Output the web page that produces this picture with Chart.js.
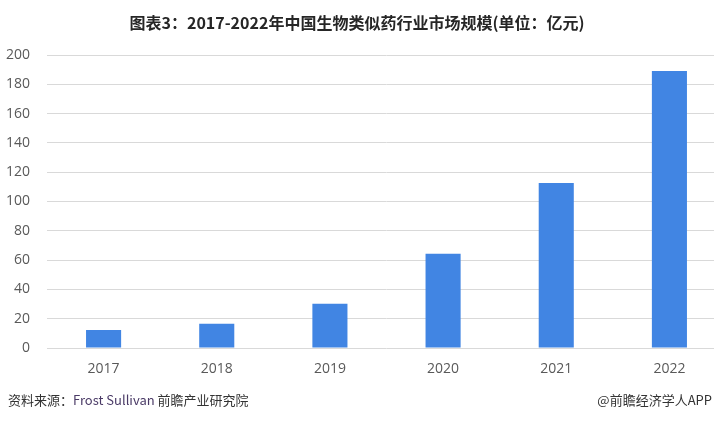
<!DOCTYPE html>
<html>
<head>
<meta charset="utf-8">
<script src="https://cdn.jsdelivr.net/npm/chart.js@4/dist/chart.umd.min.js"></script>
<style>
    body { margin: 0; background: #fff; }
    #cadre { position: relative; width: 714px; height: 421px; overflow: hidden; background: #fff; }
    #titre {
        position: absolute; left: 0; top: 10px; width: 714px; text-align: center;
        font: bold 16px "Noto Sans CJK SC", sans-serif; color: #262626;
    }
    #zone { position: absolute; left: 0; top: 0; width: 726px; height: 421px; }
    .pied { position: absolute; top: 390px; font: 13px "Noto Sans CJK SC", sans-serif; color: #333; }
    #source { left: 8px; }
    #source span { color: #4a3a66; }
    #app { right: 2px; }
</style>
</head>
<body>
<div id="cadre">
    <div id="zone"><canvas id="graph" width="726" height="421"></canvas></div>
    <div id="titre">图表3：2017-2022年中国生物类似药行业市场规模(单位：亿元)</div>
    <div class="pied" id="source">资料来源：<span>Frost Sullivan</span> 前瞻产业研究院</div>
    <div class="pied" id="app">@前瞻经济学人APP</div>
</div>
<script>
// données
const annees = ["2017", "2018", "2019", "2020", "2021", "2022"];
const marche = [12.3, 16.5, 30.2, 64.3, 112.6, 189];
const graduations = [0, 20, 40, 60, 80, 100, 120, 140, 160, 180, 200];

addEventListener("DOMContentLoaded", init);

function init() {
    const ctx = document.getElementById("graph").getContext("2d");
    new Chart(ctx, {
        type: "bar",
        data: {
            labels: annees,
            datasets: [{
                label: "市场规模",
                data: marche,
                backgroundColor: "#4185E3",
                categoryPercentage: 1,
                barPercentage: 0.31
            }]
        },
        options: {
            responsive: false,
            animation: false,
            layout: { padding: { top: 55, right: 0, bottom: 0, left: 0 } },
            plugins: {
                legend: { display: false },
                tooltip: { enabled: false }
            },
            scales: {
                x: {
                    grid: { display: false, drawTicks: false },
                    border: { display: false },
                    ticks: {
                        color: "#595959",
                        padding: 13,
                        font: { family: "'Open Sans', 'Noto Sans', sans-serif", size: 14 }
                    },
                    afterFit: function (axe) { axe.height = 73; }
                },
                y: {
                    min: 0,
                    max: 200,
                    afterBuildTicks: function (axe) {
                        axe.ticks = graduations.map(function (v) { return { value: v }; });
                    },
                    grid: { color: "#d9d9d9", drawTicks: false, lineWidth: 1 },
                    border: { display: false },
                    ticks: {
                        color: "#595959",
                        padding: 17,
                        font: { family: "'Open Sans', 'Noto Sans', sans-serif", size: 14 }
                    },
                    afterFit: function (axe) { axe.width = 47; }
                }
            }
        }
    });
}
</script>
</body>
</html>
